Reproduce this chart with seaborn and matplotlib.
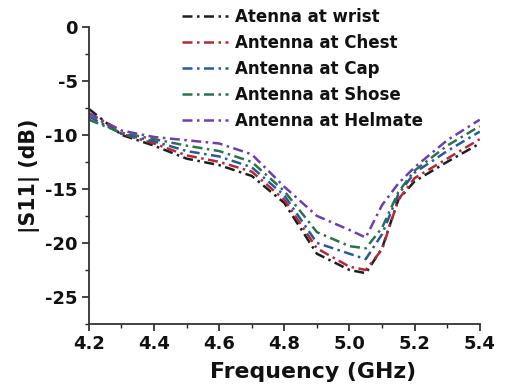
import numpy as np
import pandas as pd
import matplotlib
matplotlib.use("Agg")
import matplotlib.pyplot as plt
import seaborn as sns
from matplotlib.ticker import MultipleLocator

freq = [4.2, 4.3, 4.4, 4.5, 4.6, 4.7, 4.8, 4.9, 5.0, 5.05, 5.1, 5.15, 5.2, 5.3, 5.4]

wrist  = [-7.6, -10.0, -11.0, -12.2, -12.8, -13.8, -16.3, -21.0, -22.5, -22.8, -20.5, -16.0, -14.3, -12.5, -10.8]
chest  = [-8.0, -9.9, -10.8, -11.9, -12.5, -13.4, -16.0, -20.5, -22.2, -22.5, -20.6, -16.0, -14.0, -12.2, -10.4]
cap    = [-8.3, -9.9, -10.6, -11.5, -12.0, -13.0, -15.6, -20.0, -21.0, -21.5, -19.2, -15.5, -13.5, -11.5, -9.7]
shose  = [-8.6, -9.8, -10.4, -11.0, -11.5, -12.5, -15.2, -19.0, -20.3, -20.5, -18.6, -15.3, -13.3, -11.0, -9.2]
helmet = [-8.0, -9.6, -10.2, -10.5, -10.8, -11.8, -14.8, -17.5, -18.8, -19.5, -16.5, -14.5, -13.0, -10.5, -8.6]

labels = ["Atenna at wrist", "Antenna at Chest", "Antenna at Cap",
          "Antenna at Shose", "Antenna at Helmate"]
colors = ["#1e1e1e", "#b02a38", "#2a5898", "#2d7050", "#6c3fae"]

x_ticks = [4.2, 4.4, 4.6, 4.8, 5.0, 5.2, 5.4]
y_ticks = [0, -5, -10, -15, -20, -25]

df = pd.concat([
    pd.DataFrame({"Frequency": freq, "S11": vals, "Position": lab})
    for lab, vals in zip(labels, [wrist, chest, cap, shose, helmet])
])

sns.set_style("ticks")
plt.rcParams["font.family"] = ["DejaVu Sans"]
plt.rcParams["font.weight"] = "bold"
plt.rcParams["text.color"] = "#111111"
plt.rcParams["axes.labelcolor"] = "#111111"
plt.rcParams["xtick.color"] = "#222222"
plt.rcParams["ytick.color"] = "#222222"
plt.rcParams["xtick.labelcolor"] = "#111111"
plt.rcParams["ytick.labelcolor"] = "#111111"

fig = plt.figure(figsize=(5.05, 3.88), dpi=100)
ax = fig.add_axes([0.176, 0.165, 0.774, 0.766])

dash_dot = (4, 1.8, 1.0, 1.8)
sns.lineplot(data=df, x="Frequency", y="S11", hue="Position", style="Position",
             palette=dict(zip(labels, colors)),
             dashes={lab: dash_dot for lab in labels},
             linewidth=1.8, ax=ax, legend=True, sort=False)

ax.set_xlim(4.2, 5.4)
ax.set_ylim(-27.5, 0)
ax.set_xticks(x_ticks)
ax.set_xticklabels([f"{t:.1f}" for t in x_ticks])
ax.set_yticks(y_ticks)
ax.set_yticklabels([str(t) for t in y_ticks])
ax.xaxis.set_minor_locator(MultipleLocator(0.1))
ax.yaxis.set_minor_locator(MultipleLocator(2.5))
ax.tick_params(axis="both", which="major", length=5, width=1.2, labelsize=13,
               direction="out", pad=3)
ax.tick_params(axis="both", which="minor", length=3, width=1.0, direction="out")
for lab in ax.get_xticklabels() + ax.get_yticklabels():
    lab.set_fontweight("bold")

ax.set_xlabel("Frequency (GHz)", fontsize=15.8, fontweight="bold")
ax.xaxis.set_label_coords(0.573, -0.128)
ax.set_ylabel("|S11| (dB)", fontsize=14.8, fontweight="bold", labelpad=4)

for side in ["top", "right"]:
    ax.spines[side].set_visible(False)
for side in ["left", "bottom"]:
    ax.spines[side].set_linewidth(1.3)
    ax.spines[side].set_color("#333333")

leg = ax.legend(loc="upper left", bbox_to_anchor=(0.22, 1.085), frameon=False,
                prop={"weight": "bold", "size": 12}, handlelength=2.8,
                handletextpad=0.4, labelspacing=0.47, borderaxespad=0)
for line in leg.get_lines():
    line.set_linewidth(1.8)

fig.savefig("out.png", dpi=100)
